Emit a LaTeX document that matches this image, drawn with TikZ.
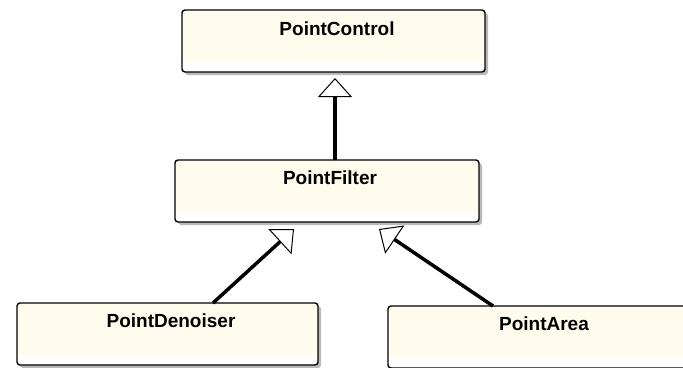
\documentclass[tikz,border=0pt]{standalone}
\usepackage{fontspec}
\setmainfont{Liberation Sans}
\usetikzlibrary{arrows.meta,shadows}
\definecolor{cream}{RGB}{255,252,238}
\definecolor{shadowgray}{RGB}{185,185,185}
\tikzset{
  umlbox/.style={draw=black, line width=1.4pt, rounded corners=3pt, fill=white,
    inner sep=0pt, outer sep=0pt, anchor=north west,
    drop shadow={shadow xshift=3pt, shadow yshift=-3pt, fill=shadowgray, opacity=1},
    path picture={\fill[cream] (path picture bounding box.north west) rectangle ([yshift=10pt]path picture bounding box.south east);}},
  umltext/.style={font=\bfseries\fontsize{19}{22}\selectfont, anchor=base, inner sep=0pt},
  inherit/.style={line width=3.5pt, -{Triangle[fill=white, length=19pt, width=34pt, line width=1pt]}}
}
\begin{document}
\begin{tikzpicture}[x=1pt,y=-1pt]
\useasboundingbox (0,0) rectangle (683,367);
\node[umlbox, minimum width=303pt, minimum height=62pt] (control) at (182,10) {};
\node[umlbox, minimum width=304pt, minimum height=62pt] (filter) at (175,160) {};
\node[umlbox, minimum width=301pt, minimum height=62pt] (denoiser) at (17,303) {};
\node[umlbox, minimum width=312pt, minimum height=62pt] (area) at (388,306) {};
\node[umltext] (tcontrol) at (337,35) {PointControl};
\node[umltext] (tfilter) at (330,184) {PointFilter};
\node[umltext] (tdenoiser) at (171,327) {PointDenoiser};
\node[umltext] (tarea) at (544,330) {PointArea};
\draw[inherit] ([xshift=8pt]filter.north) -- ([xshift=1.5pt,yshift=-6pt]control.south);
\draw[inherit] ([xshift=45.5pt]denoiser.north) -- ([xshift=-33pt,yshift=-7pt]filter.south);
\draw[inherit] ([xshift=-51pt]area.north) -- ([xshift=52pt,yshift=-7pt]filter.south);
\end{tikzpicture}
\end{document}
